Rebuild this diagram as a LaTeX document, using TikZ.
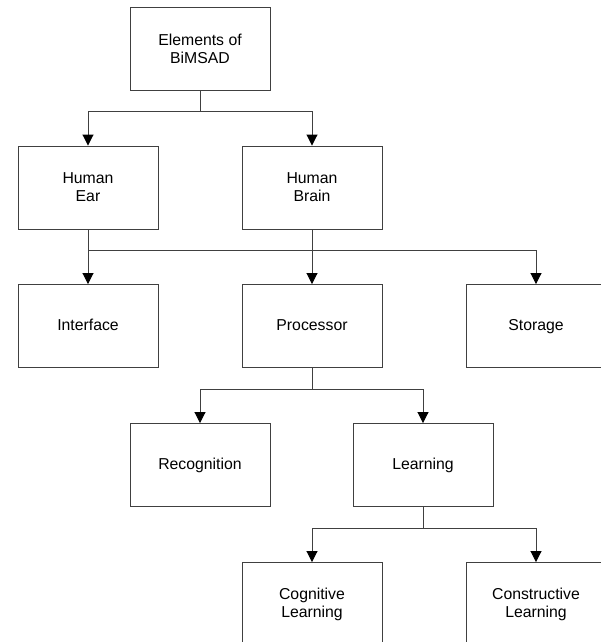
\documentclass[tikz,border=0pt]{standalone}
\usepackage{fontspec}
\setmainfont{Liberation Sans}
\usetikzlibrary{arrows.meta}
\begin{document}
\begin{tikzpicture}[x=1pt,y=-1pt,
  box/.style={draw=black!75, line width=0.9pt, rectangle,
    minimum width=140pt, minimum height=83pt, inner sep=0pt,
    align=center, font=\fontsize{15.8}{18}\selectfont},
  onebox/.style={box, align=none, text height=11.5pt, text depth=3.3pt},
  wire/.style={draw=black!75, line width=0.9pt},
  arr/.style={wire, -{Triangle[length=11pt,width=11pt,color=black]}}]
\useasboundingbox (0,0) rectangle (601,642);

% boxes
\node[box]    (el)    at (200,48.5)  {Elements of\\BiMSAD};
\node[box]    (ear)   at (88,187.5)  {Human\\Ear};
\node[box]    (brain) at (312,187.5) {Human\\Brain};
\node[onebox] (iface) at (88,326)    {Interface};
\node[onebox] (proc)  at (312,326)   {Processor};
\node[onebox] (stor)  at (536,326)   {Storage};
\node[onebox] (recog) at (200,465)   {Recognition};
\node[onebox] (learn) at (423,465)   {Learning};
\node[box]    (cog)   at (312,604)   {Cognitive\\Learning};
\node[box]    (cons)  at (536,604)   {Constructive\\Learning};

% junction points of the tree
\coordinate (j1) at (200,111);
\coordinate (j2) at (88,250);
\coordinate (j3) at (312,389);
\coordinate (j4) at (423,528);

% connectors
\draw[wire] (el.south) -- (j1);
\draw[arr] (j1) -| (ear.north);
\draw[arr] (j1) -| (brain.north);

\draw[arr] (ear.south) -- (iface.north);
\draw[arr] (j2) -| (stor.north);
\draw[arr] (brain.south) -- (proc.north);

\draw[wire] (proc.south) -- (j3);
\draw[arr] (j3) -| (recog.north);
\draw[arr] (j3) -| (learn.north);

\draw[wire] (learn.south) -- (j4);
\draw[arr] (j4) -| (cog.north);
\draw[arr] (j4) -| (cons.north);
\end{tikzpicture}
\end{document}
